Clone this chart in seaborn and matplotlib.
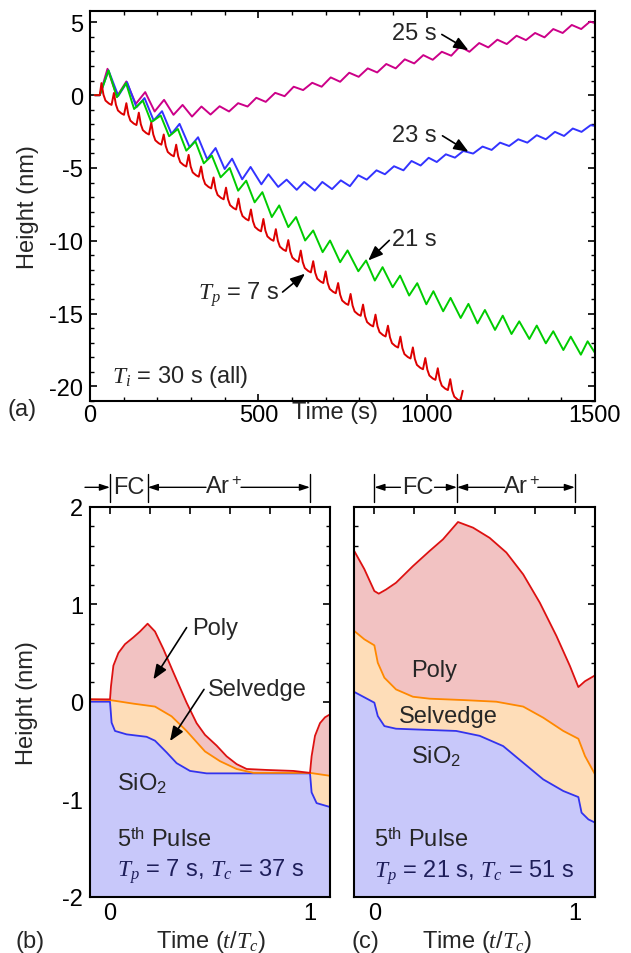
import numpy as np
import matplotlib
matplotlib.use('Agg')
import matplotlib.pyplot as plt
import seaborn as sns
import matplotlib.transforms as mtransforms
from matplotlib.ticker import MultipleLocator

# ---------------- data: panel (a) ----------------
mag_t = [14, 29, 52, 80, 108, 136, 164, 192, 220, 248, 275, 303, 331, 358, 385, 413, 440, 468, 494, 522,
         550, 578, 605, 633, 660, 688, 715, 743, 770, 798, 825, 853, 880, 908, 935, 963, 990, 1018, 1045, 1073,
         1099, 1127, 1156, 1183, 1210, 1238, 1267, 1295, 1322, 1350, 1376, 1404, 1431, 1459, 1485, 1500]
mag_h = [0, 0, 1.81, -0.09, 0.94, -0.60, 0.21, -1.12, -0.32, -1.35, -0.67, -1.47, -0.78, -1.33, -0.76, -1.12,
         -0.55, -0.78, -0.18, -0.46, 0.16, -0.07, 0.58, 0.35, 0.85, 0.58, 1.22, 0.92, 1.54, 1.26, 1.84, 1.56,
         2.14, 1.84, 2.46, 2.18, 2.75, 2.43, 2.98, 2.71, 3.35, 2.98, 3.58, 3.28, 3.81, 3.51, 4.08, 3.78,
         4.27, 3.97, 4.54, 4.27, 4.82, 4.54, 5.05, 4.95]

blue_t = [14, 29, 55, 84, 110, 138, 162, 189, 214, 242, 266, 296, 321, 348, 373, 400, 422, 452, 477, 509,
          530, 559, 584, 614, 636, 668, 690, 719, 745, 772, 797, 822, 851, 876, 903, 931, 955, 982, 1006, 1030,
          1057, 1084, 1109, 1138, 1166, 1193, 1218, 1245, 1272, 1299, 1327, 1354, 1381, 1408, 1434, 1460, 1487, 1500]
blue_h = [0, 0, 1.70, -0.05, 0.89, -0.83, -0.20, -1.74, -1.10, -2.66, -1.97, -3.58, -2.89, -4.40, -3.63, -5.07,
          -4.36, -5.78, -4.93, -6.12, -5.43, -6.30, -5.80, -6.50, -5.96, -6.55, -5.96, -6.45, -5.85, -6.25,
          -5.50, -5.80, -5.16, -5.43, -4.88, -5.16, -4.52, -4.83, -4.30, -4.59, -4.06, -4.29, -3.83, -4.01,
          -3.53, -3.76, -3.26, -3.49, -3.03, -3.26, -2.75, -3.03, -2.52, -2.80, -2.29, -2.52, -2.06, -2.11]

green_t = [14, 29, 55, 80, 107, 131, 157, 182, 210, 235, 261, 286, 313, 338, 362, 388, 415, 440, 464, 489,
           512, 540, 562, 589, 612, 639, 663, 691, 713, 743, 765, 797, 820, 846, 869, 899, 921, 948, 972, 999,
           1020, 1049, 1071, 1101, 1124, 1151, 1173, 1203, 1226, 1252, 1275, 1305, 1327, 1354, 1376, 1406,
           1428, 1458, 1478, 1500]
green_h = [0, 0, 1.70, -0.14, 0.83, -0.95, -0.37, -1.85, -1.40, -2.82, -2.32, -3.81, -3.17, -4.68, -4.15, -5.64,
           -5.00, -6.56, -5.87, -7.36, -6.66, -8.37, -7.57, -9.06, -8.37, -9.98, -9.29, -10.78, -9.98, -11.47,
           -10.66, -12.09, -11.35, -12.73, -11.81, -13.19, -12.39, -13.76, -12.91, -14.36, -13.46, -14.84,
           -13.92, -15.30, -14.33, -15.67, -14.75, -16.12, -15.14, -16.40, -15.53, -16.74, -15.82, -17.04,
           -16.21, -17.50, -16.58, -17.82, -16.90, -17.70]

red_t = [14, 29,
         34, 40, 46, 56, 64,
         71, 77, 83, 93, 101,
         108, 114, 120, 130, 138,
         145, 151, 157, 167, 175,
         182, 188, 194, 204, 212,
         219, 225, 231, 241, 249,
         256, 262, 268, 278, 286,
         293, 299, 305, 315, 323,
         330, 336, 342, 352, 360,
         367, 373, 379, 389, 397,
         404, 410, 416, 426, 434,
         441, 447, 453, 463, 471,
         478, 484, 490, 500, 508,
         515, 521, 527, 537, 545,
         552, 558, 564, 574, 582,
         589, 595, 601, 611, 619,
         626, 632, 638, 648, 656,
         663, 669, 675, 685, 693,
         700, 706, 712, 722, 730,
         737, 743, 749, 759, 767,
         774, 780, 786, 796, 804,
         811, 817, 823, 833, 841,
         848, 854, 860, 870, 878,
         885, 891, 897, 907, 915,
         922, 928, 934, 944, 952,
         959, 965, 971, 981, 989,
         996, 1002, 1008, 1018, 1026,
         1033, 1039, 1045, 1055, 1063,
         1070, 1076, 1082, 1092, 1100, 1107]
red_h = [0, 0,
         0.83, 0.03, -0.37, -0.57, -0.67,
         0.15, -0.65, -1.05, -1.25, -1.35,
         -0.55, -1.35, -1.75, -1.95, -2.05,
         -1.20, -2.00, -2.40, -2.60, -2.70,
         -1.90, -2.70, -3.10, -3.30, -3.40,
         -2.70, -3.50, -3.90, -4.10, -4.20,
         -3.40, -4.20, -4.60, -4.80, -4.90,
         -4.10, -4.90, -5.30, -5.50, -5.60,
         -4.90, -5.70, -6.10, -6.30, -6.40,
         -5.65, -6.45, -6.85, -7.05, -7.15,
         -6.35, -7.15, -7.55, -7.75, -7.85,
         -7.10, -7.90, -8.30, -8.50, -8.60,
         -7.85, -8.65, -9.05, -9.25, -9.35,
         -8.50, -9.30, -9.70, -9.90, -10.00,
         -9.20, -10.00, -10.40, -10.60, -10.70,
         -9.95, -10.75, -11.15, -11.35, -11.45,
         -10.67, -11.47, -11.87, -12.07, -12.17,
         -11.40, -12.20, -12.60, -12.80, -12.90,
         -12.10, -12.90, -13.30, -13.50, -13.60,
         -12.90, -13.70, -14.10, -14.30, -14.40,
         -13.65, -14.45, -14.85, -15.05, -15.15,
         -14.38, -15.18, -15.58, -15.78, -15.88,
         -15.07, -15.87, -16.27, -16.47, -16.57,
         -15.83, -16.63, -17.03, -17.23, -17.33,
         -16.58, -17.38, -17.78, -17.98, -18.08,
         -17.32, -18.12, -18.52, -18.72, -18.82,
         -18.05, -18.85, -19.25, -19.45, -19.55,
         -18.75, -19.55, -19.95, -20.15, -20.25,
         -19.50, -20.30, -20.70, -20.90, -21.00, -20.30]

# ---------------- data: panel (b), Tp = 7 s ----------------
poly_b_t = [-0.1, 0.0, 0.005, 0.017, 0.042, 0.075, 0.117, 0.15, 0.188, 0.225, 0.267, 0.317, 0.383, 0.433,
            0.475, 0.533, 0.583, 0.633, 0.683, 0.783, 0.917, 1.0, 1.008, 1.025, 1.05, 1.075, 1.1]
poly_b_h = [0.024, 0.024, 0.16, 0.37, 0.50, 0.59, 0.66, 0.72, 0.80, 0.72, 0.54, 0.30, -0.01, -0.22,
            -0.34, -0.45, -0.56, -0.64, -0.69, -0.70, -0.71, -0.73, -0.56, -0.35, -0.22, -0.16, -0.13]
selv_b_t = [-0.1, 0.0, 0.117, 0.225, 0.308, 0.383, 0.475, 0.55, 0.633, 0.717, 1.0, 1.1]
selv_b_h = [0.024, 0.017, -0.02, -0.05, -0.15, -0.30, -0.51, -0.61, -0.69, -0.73, -0.73, -0.76]
sio2_b_t = [-0.1, 0.0, 0.008, 0.025, 0.083, 0.183, 0.225, 0.283, 0.333, 0.4, 0.483, 1.0, 1.008, 1.033, 1.1]
sio2_b_h = [0.0, 0.0, -0.215, -0.30, -0.335, -0.36, -0.40, -0.52, -0.63, -0.71, -0.735, -0.735, -0.93,
            -1.04, -1.08]

# ---------------- data: panel (c), Tp = 21 s ----------------
poly_c_t = [-0.1, -0.05, 0.0, 0.022, 0.058, 0.108, 0.192, 0.275, 0.342, 0.417, 0.492, 0.575, 0.658, 0.742,
            0.825, 0.908, 0.975, 1.017, 1.05, 1.1]
poly_c_h = [1.545, 1.36, 1.135, 1.108, 1.15, 1.22, 1.39, 1.545, 1.665, 1.843, 1.785, 1.68, 1.53, 1.306,
            1.015, 0.673, 0.366, 0.15, 0.21, 0.27]
selv_c_t = [-0.1, -0.05, 0.0, 0.017, 0.05, 0.108, 0.192, 0.275, 0.442, 0.608, 0.742, 0.842, 0.942, 1.017,
            1.05, 1.1]
selv_c_h = [0.725, 0.64, 0.578, 0.40, 0.246, 0.126, 0.051, 0.031, 0.017, 0.0, -0.05, -0.164, -0.30, -0.38,
            -0.557, -0.745]
sio2_c_t = [-0.1, 0.0, 0.017, 0.05, 0.108, 0.275, 0.408, 0.525, 0.642, 0.742, 0.842, 0.942, 1.017, 1.033,
            1.067, 1.1]
sio2_c_h = [0.10, -0.01, -0.147, -0.25, -0.277, -0.29, -0.30, -0.35, -0.455, -0.626, -0.797, -0.916, -0.978,
            -1.138, -1.207, -1.24]

# ---------------- style ----------------
sns.set_theme(style='ticks')
plt.rcParams['font.family'] = ['Liberation Sans', 'DejaVu Sans']
plt.rcParams['mathtext.fontset'] = 'custom'
plt.rcParams['mathtext.rm'] = 'Liberation Sans'
plt.rcParams['mathtext.it'] = 'Liberation Serif:italic'
plt.rcParams['mathtext.bf'] = 'Liberation Sans:bold'
plt.rcParams['axes.unicode_minus'] = False

FS = 17
W, H = 631, 954
fig = plt.figure(figsize=(W / 100, H / 100), dpi=100)
axA = fig.add_axes([90 / W, 1 - 402 / H, 505 / W, 390.3 / H])
axB = fig.add_axes([90 / W, 1 - 897.7 / H, 240 / W, 390 / H])
axC = fig.add_axes([354.3 / W, 1 - 897.7 / H, 240.7 / W, 390 / H])


def style_axes(ax):
    for s in ax.spines.values():
        s.set_linewidth(1.5)
        s.set_color('black')
    ax.tick_params(which='both', direction='in', top=True, right=True, colors='black',
                   labelsize=FS)
    ax.tick_params(which='major', length=5, width=1.2)
    ax.tick_params(which='minor', length=3, width=1.0)
    ax.set_facecolor('white')


# ---------------- panel (a) ----------------
LW = 1.4
sns.lineplot(x=mag_t, y=mag_h, ax=axA, color='#CC0088', lw=LW, sort=False, estimator=None)
sns.lineplot(x=blue_t, y=blue_h, ax=axA, color='#3333FF', lw=LW, sort=False, estimator=None)
sns.lineplot(x=green_t, y=green_h, ax=axA, color='#00CC00', lw=LW, sort=False, estimator=None)
sns.lineplot(x=red_t, y=red_h, ax=axA, color='#DD0000', lw=LW, sort=False, estimator=None)
axA.set_xlim(0, 1500)
axA.set_ylim(-21, 5.8)
axA.xaxis.set_major_locator(MultipleLocator(500))
axA.xaxis.set_minor_locator(MultipleLocator(100))
axA.yaxis.set_major_locator(MultipleLocator(5))
axA.yaxis.set_minor_locator(MultipleLocator(1))
style_axes(axA)
axA.tick_params(axis='x', pad=2)
axA.tick_params(axis='y', pad=5)
axA.set_xlabel('')
axA.set_ylabel('')

arrow_kw = dict(arrowstyle='-|>,head_length=0.55,head_width=0.22', color='black', lw=1.2,
                shrinkA=0, shrinkB=0, mutation_scale=16)
axA.text(1030, 4.24, '25 s', ha='right', va='center', fontsize=FS)
axA.annotate('', xy=(1124, 3.09), xytext=(1045, 4.17), arrowprops=arrow_kw)
axA.text(1030, -2.75, '23 s', ha='right', va='center', fontsize=FS)
axA.annotate('', xy=(1124, -3.89), xytext=(1047, -2.79), arrowprops=arrow_kw)
axA.text(896, -9.86, '21 s', ha='left', va='center', fontsize=FS)
axA.annotate('', xy=(826.6, -11.35), xytext=(889, -9.97), arrowprops=arrow_kw)
axA.text(564, -13.64, r'$T_p$ = 7 s', ha='right', va='center', fontsize=FS)
axA.annotate('', xy=(638.6, -12.26), xytext=(572, -13.52), arrowprops=arrow_kw)
axA.text(64, -19.26, r'$T_i$ = 30 s (all)', ha='left', va='center', fontsize=FS)

fig.text(28 / W, 1 - 207 / H, 'Height (nm)', ha='center', va='center', rotation=90, fontsize=FS)
fig.text(335 / W, 1 - 413 / H, 'Time (s)', ha='center', va='center', fontsize=FS)
fig.text(22 / W, 1 - 410 / H, '(a)', ha='center', va='center', fontsize=FS)

# ---------------- panels (b), (c) ----------------
C_POLY, C_SELV, C_SIO2 = '#DD1111', '#FF8800', '#3333EE'
F_POLY, F_SELV, F_SIO2 = '#F2C2C2', '#FEDDB8', '#C8C8FA'


def layer_panel(ax, pt, ph, st, sh, ot, oh):
    ax.fill_between(pt, ph, -2, color=F_POLY, lw=0)
    ax.fill_between(st, sh, -2, color=F_SELV, lw=0)
    ax.fill_between(ot, oh, -2, color=F_SIO2, lw=0)
    sns.lineplot(x=ot, y=oh, ax=ax, color=C_SIO2, lw=1.3, sort=False, estimator=None)
    sns.lineplot(x=st, y=sh, ax=ax, color=C_SELV, lw=1.3, sort=False, estimator=None)
    sns.lineplot(x=pt, y=ph, ax=ax, color=C_POLY, lw=1.3, sort=False, estimator=None)
    ax.set_xlim(-0.1, 1.1)
    ax.set_ylim(-2, 2)
    ax.set_xticks([0, 0.2, 0.4, 0.6, 0.8, 1.0])
    ax.set_xticklabels(['0', '', '', '', '', '1'])
    ax.yaxis.set_major_locator(MultipleLocator(1))
    ax.yaxis.set_minor_locator(MultipleLocator(0.2))
    style_axes(ax)
    ax.tick_params(axis='x', pad=4)
    ax.tick_params(axis='y', pad=5)
    ax.set_xlabel('')
    ax.set_ylabel('')


layer_panel(axB, poly_b_t, poly_b_h, selv_b_t, selv_b_h, sio2_b_t, sio2_b_h)
layer_panel(axC, poly_c_t, poly_c_h, selv_c_t, selv_c_h, sio2_c_t, sio2_c_h)
axC.tick_params(axis='y', labelleft=False)
fig.text(26.5 / W, 1 - 703 / H, 'Height (nm)', ha='center', va='center', rotation=90, fontsize=FS)

NAVY = '#1E1E5A'
# panel b labels
axB.text(0.413, 0.76, 'Poly', ha='left', va='center', fontsize=FS)
axB.annotate('', xy=(0.217, 0.229), xytext=(0.383, 0.76), arrowprops=arrow_kw)
axB.text(0.49, 0.127, 'Selvedge', ha='left', va='center', fontsize=FS)
axB.annotate('', xy=(0.30, -0.404), xytext=(0.47, 0.126), arrowprops=arrow_kw)
axB.text(0.033, -0.83, r'SiO$_{\rm 2}$', ha='left', va='center', fontsize=FS)
axB.text(0.033, -1.41, r'5$^{\rm th}$ Pulse', ha='left', va='center', fontsize=FS)
axB.text(0.033, -1.73, r'$T_p$ = 7 s, $T_c$ = 37 s', ha='left', va='center', fontsize=FS, color=NAVY)
# panel c labels
axC.text(0.30, 0.33, 'Poly', ha='center', va='center', fontsize=FS)
axC.text(0.37, -0.15, 'Selvedge', ha='center', va='center', fontsize=FS)
axC.text(0.183, -0.56, r'SiO$_{\rm 2}$', ha='left', va='center', fontsize=FS)
axC.text(0.0, -1.41, r'5$^{\rm th}$ Pulse', ha='left', va='center', fontsize=FS)
axC.text(0.0, -1.74, r'$T_p$ = 21 s, $T_c$ = 51 s', ha='left', va='center', fontsize=FS, color=NAVY)

# phase brackets above panels
YC, Y0, Y1 = 1.0497, 1.011, 1.084
small_arrow = dict(arrowstyle='-|>,head_length=0.6,head_width=0.2', color='black', lw=1.0,
                   shrinkA=0, shrinkB=0, mutation_scale=10)


def bracket(ax, bars, labels, arrows):
    tr = mtransforms.blended_transform_factory(ax.transData, ax.transAxes)
    for x in bars:
        ax.plot([x, x], [Y0, Y1], transform=tr, color='black', lw=1.0, clip_on=False)
    for x, s in labels:
        ax.text(x, YC, s, transform=tr, ha='center', va='center', fontsize=FS)
    for x0, x1 in arrows:
        ax.annotate('', xy=(x1, YC), xytext=(x0, YC), xycoords=tr, textcoords=tr,
                    arrowprops=small_arrow, annotation_clip=False)


bracket(axB, [0, 0.189, 1.0], [(0.095, 'FC'), (0.567, r'Ar$^{\rm +}$')],
        [(-0.125, 0.0), (0.48, 0.189), (0.655, 1.0)])
bracket(axC, [0, 0.412, 1.0], [(0.2165, 'FC'), (0.7335, r'Ar$^{\rm +}$')],
        [(0.13, 0.0), (0.30, 0.412), (0.65, 0.412), (0.815, 1.0)])

fig.text(211 / W, 1 - 941.7 / H, r'Time ($t/T_c$)', ha='center', va='center', fontsize=FS)
fig.text(477 / W, 1 - 941.7 / H, r'Time ($t/T_c$)', ha='center', va='center', fontsize=FS)
fig.text(30 / W, 1 - 941.7 / H, '(b)', ha='center', va='center', fontsize=FS)
fig.text(365 / W, 1 - 941.7 / H, '(c)', ha='center', va='center', fontsize=FS)

fig.savefig('out.png', dpi=100, facecolor='white')
